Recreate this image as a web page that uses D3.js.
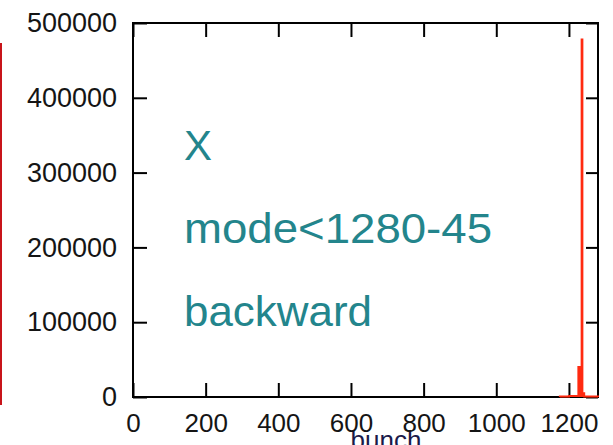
<!DOCTYPE html>
<html>
<head>
<meta charset="utf-8">
<script src="https://cdn.jsdelivr.net/npm/d3@7"></script>
<style>
  html, body { margin: 0; padding: 0; background: #fff; }
  svg { display: block; }
</style>
</head>
<body>
<svg id="chart" width="613" height="445"></svg>
<script>
// Histogram of bunch numbers (bin edges and counts per bin)
const binEdges = [1175, 1200, 1226, 1235, 1237, 1242, 1280];
const binCounts = [700, 1500, 40000, 478000, 5000, 800];

const xTicks = [0, 200, 400, 600, 800, 1000, 1200];
const yTicks = [0, 100000, 200000, 300000, 400000, 500000];
const annotations = ["X", "mode<1280-45", "backward"];
const xLabel = "bunch";

const svg = d3.select("#chart");
const m = { left: 133, right: 598, top: 23, bottom: 397 };

const x = d3.scaleLinear().domain([0, 1280]).range([m.left, m.right]);
const y = d3.scaleLinear().domain([0, 500000]).range([m.bottom, m.top]);

const fontFam = "'Liberation Sans', Arial, sans-serif";

// axis title, partly below the page edge (drawn first so tick labels sit over it)
svg.append("text")
  .attr("x", 386).attr("y", 449)
  .attr("text-anchor", "middle")
  .attr("fill", "#1a1a4a")
  .style("font-family", fontFam).style("font-size", "26px")
  .text(xLabel);

// neighbouring panel edge on the far left
svg.append("line")
  .attr("x1", 1).attr("x2", 1).attr("y1", 43).attr("y2", 405)
  .attr("stroke", "#c8141a").attr("stroke-width", 2);

// axes with inward ticks on all four sides
const xb = svg.append("g").attr("transform", `translate(0,${m.bottom})`)
  .call(d3.axisBottom(x).tickValues(xTicks).tickSize(-14).tickPadding(17).tickFormat(d3.format("d")));
const xt = svg.append("g").attr("transform", `translate(0,${m.top})`)
  .call(d3.axisTop(x).tickValues(xTicks).tickSize(-14).tickFormat(""));
const yl = svg.append("g").attr("transform", `translate(${m.left},0)`)
  .call(d3.axisLeft(y).tickValues(yTicks).tickSize(-14).tickPadding(16).tickFormat(d3.format("d")));
const yr = svg.append("g").attr("transform", `translate(${m.right},0)`)
  .call(d3.axisRight(y).tickValues(yTicks).tickSize(-12).tickFormat(""));

[xb, xt, yl, yr].forEach(a => {
  a.select(".domain").remove();
  a.selectAll(".tick line").attr("stroke", "#000").attr("stroke-width", 2);
  a.selectAll(".tick text").attr("fill", "#151515")
    .style("font-family", fontFam).style("font-size", "26px");
});
yl.selectAll(".tick text").style("font-size", "27px");

// frame
svg.append("rect")
  .attr("x", m.left).attr("y", m.top)
  .attr("width", m.right - m.left).attr("height", m.bottom - m.top)
  .attr("fill", "none").attr("stroke", "#000").attr("stroke-width", 2);

// step outline of the histogram, drawn over the frame
const pts = binCounts.map((c, i) => [binEdges[i], c]);
pts.push([binEdges[binEdges.length - 1], binCounts[binCounts.length - 1]]);

svg.append("path")
  .datum(pts)
  .attr("fill", "#ff2a10")
  .attr("d", d3.area().curve(d3.curveStepAfter)
    .x(d => x(d[0])).y0(y(0)).y1(d => y(d[1])));

svg.append("path")
  .datum([[binEdges[0], 0], ...pts, [binEdges[binEdges.length - 1], 0]])
  .attr("fill", "none")
  .attr("stroke", "#ff2a10")
  .attr("stroke-width", 2)
  .attr("d", d3.line().curve(d3.curveStepAfter)
    .x(d => x(d[0])).y(d => y(d[1])));

// annotation text
const annY = [160, 243, 326];
const annW = [28, 308, 188];
annotations.forEach((t, i) => {
  svg.append("text")
    .attr("x", 184).attr("y", annY[i])
    .attr("fill", "#23858c")
    .attr("textLength", annW[i])
    .attr("lengthAdjust", "spacingAndGlyphs")
    .style("font-family", fontFam).style("font-size", "42px")
    .text(t);
});
</script>
</body>
</html>
